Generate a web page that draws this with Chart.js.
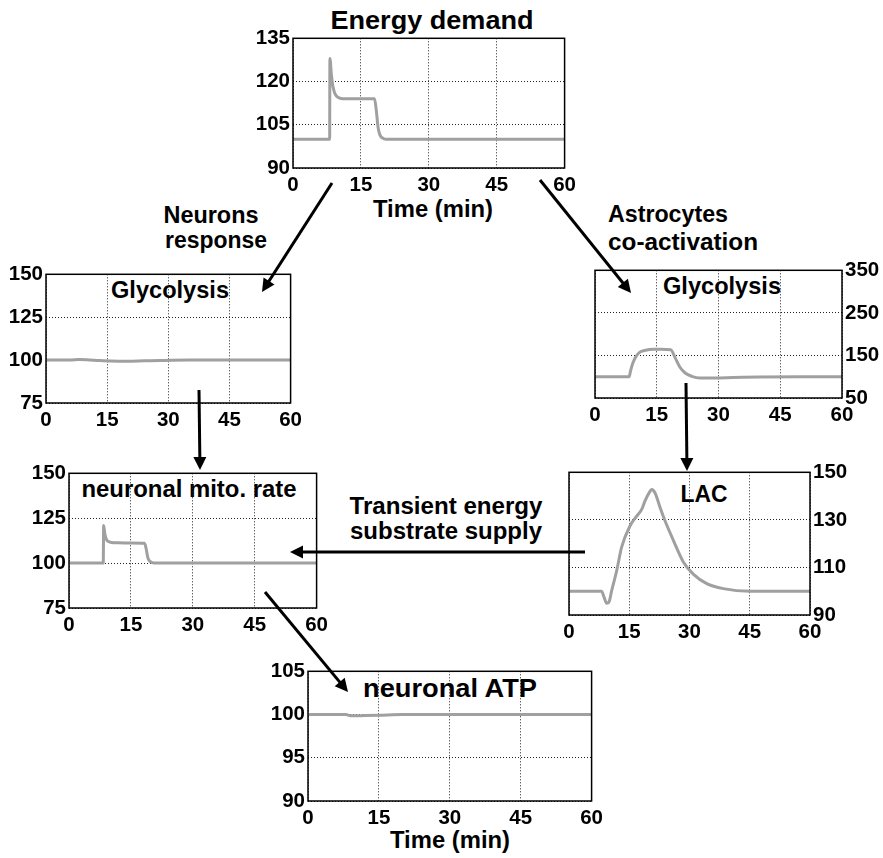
<!DOCTYPE html>
<html>
<head>
<meta charset="utf-8">
<script src="https://cdn.jsdelivr.net/npm/chart.js@4"></script>
<style>
  body { margin:0; background:#fff; overflow:hidden; width:883px; height:858px; position:relative; }
  canvas { position:absolute; }
  #over { position:absolute; left:0; top:0; pointer-events:none; }
  #over text { font-family:"Liberation Sans", Arial, sans-serif; font-weight:bold; fill:#000; }
</style>
</head>
<body>
<svg id="over" width="883" height="858" xmlns="http://www.w3.org/2000/svg"></svg>
<script>
// ================= DATA =================
const xTicks = [0, 15, 30, 45, 60];

// Energy demand (%)
const energyT = [0, 8.1, 8.15, 8.5, 8.8, 9.2, 9.6, 10.2, 11, 14, 18, 18.4, 18.8, 19.2, 19.8, 20.5, 30, 45, 60];
const energyV = [100, 100, 128, 122, 118.5, 116, 115, 114.3, 114, 114, 114, 110, 104, 101.5, 100.4, 100, 100, 100, 100];

// Neurons glycolysis (%)
const neuGlyT = [0, 6, 8, 10, 13, 16, 20, 24, 28, 35, 45, 60];
const neuGlyV = [100, 100, 100.3, 100.2, 99.8, 99.5, 99.4, 99.6, 99.8, 100, 100, 100];

// Astrocytes glycolysis (%)
const astGlyT = [0, 8.3, 8.6, 9.15, 10, 10.9, 12, 14.2, 16, 18.4, 19.4, 20.6, 21.9, 23.5, 25.5, 28.7, 33.5, 40, 50, 60];
const astGlyV = [100, 100, 112, 131, 148, 157.7, 161.5, 164.7, 164.5, 163.5, 146, 122.8, 108.8, 101, 97, 97, 98, 99.5, 100, 100];

// Neuronal mitochondrial rate (%)
const mitoT = [0, 8.3, 8.4, 8.7, 9.1, 9.6, 10.3, 12, 15, 18.3, 18.7, 19.1, 19.6, 20.2, 21, 30, 45, 60];
const mitoV = [100, 100, 121, 116, 113, 112, 111.5, 111.3, 111.2, 111, 108, 103, 101, 100.3, 100, 100, 100, 100];

// Lactate (%)
const lacT = [0, 8.1, 8.7, 9.4, 10, 10.6, 11.9, 13.1, 15.2, 16.9, 18.1, 18.9, 20.2, 20.6, 21.4, 22.7, 23.9, 26, 28.5, 31, 34.3, 38.4, 45, 60];
const lacV = [100, 100, 97.6, 94.9, 95.6, 100, 108.8, 118.5, 127.5, 131.7, 134.4, 137.9, 142.1, 142.8, 141.4, 135.1, 129.6, 121.3, 112.2, 107.1, 103.2, 101.1, 100, 100];

// Neuronal ATP (%)
const atpT = [0, 8, 9, 12, 15, 20, 30, 45, 60];
const atpV = [100, 100, 99.85, 99.88, 99.92, 100, 100, 100, 100];

// ================= FRAME PLUGIN =================
const frame = {
  id: 'frame',
  afterDraw(chart){
    const a = chart.chartArea, ctx = chart.ctx;
    ctx.save();
    ctx.strokeStyle = '#000';
    ctx.lineWidth = 1.5;
    ctx.strokeRect(a.left, a.top, a.right - a.left, a.bottom - a.top);
    ctx.restore();
  }
};

const tickFont = { family: '"Liberation Sans", Arial, sans-serif', weight: 'bold', size: 20.5 };

// ================= PANELS =================
function panel(box, side, yMin, yMax, yStep, xs, ys){
  const yw = side === 'left' ? 44 : 41, xh = 34, pad = 14;
  const w = box.r - box.l, h = box.b - box.t;
  const c = document.createElement('canvas');
  c.width = w + yw + pad;
  c.height = h + pad + xh;
  c.style.left = (side === 'left' ? box.l - yw : box.l - pad) + 'px';
  c.style.top = (box.t - pad) + 'px';
  document.body.appendChild(c);

  new Chart(c, {
    type: 'line',
    data: {
      datasets: [{
        data: xs.map((x, i) => ({ x: x, y: ys[i] })),
        borderColor: '#a0a0a0',
        borderWidth: 3,
        pointRadius: 0,
        cubicInterpolationMode: 'monotone',
        fill: false
      }]
    },
    options: {
      responsive: false,
      animation: false,
      devicePixelRatio: 1,
      layout: { padding: side === 'left'
        ? { top: pad, right: pad, left: 0, bottom: 0 }
        : { top: pad, left: pad, right: 0, bottom: 0 } },
      plugins: { legend: { display: false }, tooltip: { enabled: false } },
      scales: {
        x: {
          type: 'linear', position: 'bottom', min: 0, max: 60,
          afterBuildTicks: s => { s.ticks = xTicks.map(v => ({ value: v })); },
          afterFit: s => { s.height = xh; },
          ticks: { font: tickFont, color: '#000', padding: 5, maxRotation: 0, autoSkip: false },
          grid: { color: '#222', lineWidth: 1, drawTicks: false },
          border: { display: false, dash: [1, 2] }
        },
        y: {
          type: 'linear', position: side, min: yMin, max: yMax,
          ticks: { stepSize: yStep, font: tickFont, color: '#000', padding: 3 },
          afterFit: s => { s.width = yw; },
          grid: { color: '#222', lineWidth: 1, drawTicks: false },
          border: { display: false, dash: [1, 2] }
        }
      }
    },
    plugins: [frame]
  });
}

panel({ l: 293, t: 37,  r: 567, b: 168 }, 'left',  90, 135, 15,  energyT, energyV);
panel({ l: 46,  t: 273, r: 293, b: 403 }, 'left',  75, 150, 25,  neuGlyT, neuGlyV);
panel({ l: 595, t: 269, r: 842, b: 398 }, 'right', 50, 350, 100, astGlyT, astGlyV);
panel({ l: 69,  t: 472, r: 319, b: 608 }, 'left',  75, 150, 25,  mitoT, mitoV);
panel({ l: 569, t: 471, r: 810, b: 615 }, 'right', 90, 150, 20,  lacT, lacV);
panel({ l: 308, t: 670, r: 594, b: 801 }, 'left',  90, 105, 5,   atpT, atpV);

// ================= LABELS & ARROWS =================
const svg = document.getElementById('over');
const NS = 'http://www.w3.org/2000/svg';

// [text, x, baseline y, size, anchor, width]
const labels = [
  ['Energy demand', 432, 29, 25, 'middle', 203],
  ['Time (min)', 433, 217, 23, 'middle', 120],
  ['Neurons', 211, 223, 23, 'middle', 95],
  ['response', 216, 248, 23, 'middle', 102],
  ['Astrocytes', 608, 222, 23, 'start', 120],
  ['co-activation', 608, 250, 23, 'start', 150],
  ['Transient energy', 446, 514, 23, 'middle', 193],
  ['substrate supply', 446, 539, 23, 'middle', 192],
  ['Glycolysis', 170, 298, 24, 'middle', 118],
  ['Glycolysis', 722, 294, 24, 'middle', 118],
  ['neuronal mito. rate', 189, 497, 24, 'middle', 215],
  ['LAC', 704, 502, 24, 'middle', 47],
  ['neuronal ATP', 450, 697, 25, 'middle', 174],
  ['Time (min)', 450, 848, 23, 'middle', 120]
];

labels.forEach(([s, x, y, size, anchor, wd]) => {
  const t = document.createElementNS(NS, 'text');
  t.setAttribute('x', x);
  t.setAttribute('y', y);
  t.setAttribute('font-size', size);
  t.setAttribute('text-anchor', anchor);
  t.setAttribute('textLength', wd);
  t.setAttribute('lengthAdjust', 'spacingAndGlyphs');
  t.textContent = s;
  svg.appendChild(t);
});

// [x1, y1, tipX, tipY]
const arrows = [
  [332, 183, 262, 292],
  [540, 180, 631, 293],
  [199, 390, 200, 470],
  [686, 383, 687, 471],
  [585, 552, 290, 552],
  [265, 592, 348, 692]
];

arrows.forEach(([x1, y1, x2, y2]) => {
  const dx = x2 - x1, dy = y2 - y1, len = Math.hypot(dx, dy);
  const ux = dx / len, uy = dy / len, hl = 13, hw = 6.5;
  const line = document.createElementNS(NS, 'line');
  line.setAttribute('x1', x1); line.setAttribute('y1', y1);
  line.setAttribute('x2', x2 - ux * 8); line.setAttribute('y2', y2 - uy * 8);
  line.setAttribute('stroke', '#000'); line.setAttribute('stroke-width', 3);
  svg.appendChild(line);
  const bx = x2 - ux * hl, by = y2 - uy * hl;
  const head = document.createElementNS(NS, 'polygon');
  head.setAttribute('points',
    `${x2},${y2} ${bx - uy * hw},${by + ux * hw} ${bx + uy * hw},${by - ux * hw}`);
  head.setAttribute('fill', '#000');
  svg.appendChild(head);
});
</script>
</body>
</html>
